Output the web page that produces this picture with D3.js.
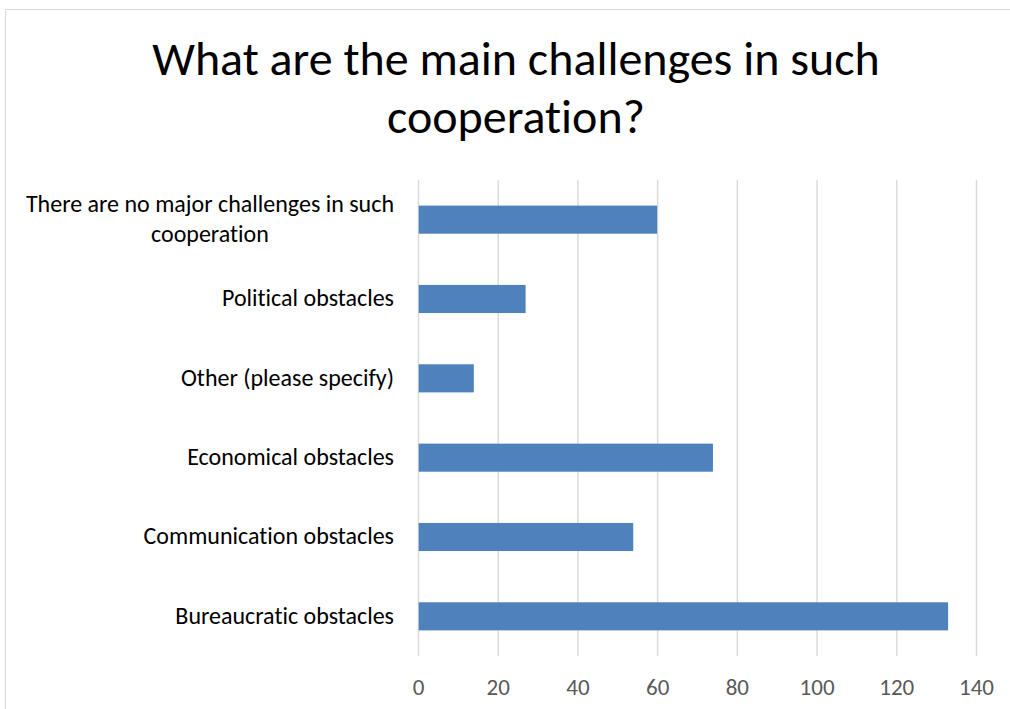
<!DOCTYPE html>
<html>
<head>
<meta charset="utf-8">
<script src="https://cdn.jsdelivr.net/npm/d3@7"></script>
<style>
  html, body { margin: 0; padding: 0; background: #fff; }
  svg { display: block; }
  text { font-variant-ligatures: none; font-feature-settings: "liga" 0, "clig" 0; }
</style>
</head>
<body>
<svg id="chart" width="1010" height="709"></svg>
<script>
// Survey answers, listed top to bottom as drawn
const categories = [
  "There are no major challenges in such cooperation",
  "Political obstacles",
  "Other (please specify)",
  "Economical obstacles",
  "Communication obstacles",
  "Bureaucratic obstacles"
];
const values = [60, 27, 14, 74, 54, 133];
const tickValues = [0, 20, 40, 60, 80, 100, 120, 140];
const titleLines = ["What are the main challenges in such", "cooperation?"];

const FONT = "Carlito, 'Open Sans', 'Noto Sans', sans-serif";
const svg = d3.select("#chart");

// Chart frame
svg.append("path")
  .attr("d", "M5.5,709 V9.5 H1010")
  .attr("fill", "none")
  .attr("stroke", "#d9d9d9")
  .attr("stroke-width", 1);

const plot = { left: 418, right: 976, top: 180, bottom: 656 };

const x = d3.scaleLinear().domain([0, 140]).range([plot.left, plot.right]);
const y = d3.scaleBand().domain(categories).range([plot.top, plot.bottom])
  .paddingInner(0.646).paddingOuter(0.323);

// Title
const title = svg.append("text")
  .attr("text-anchor", "middle")
  .attr("font-family", FONT)
  .attr("font-size", 48)
  .attr("fill", "#000");
titleLines.forEach((t, i) => {
  title.append("tspan").attr("x", 516).attr("y", 75 + i * 58).text(t);
});

// Vertical gridlines + tick labels
const xAxis = d3.axisBottom(x).tickValues(tickValues).tickSize(plot.bottom - plot.top).tickPadding(0);
const gx = svg.append("g").attr("transform", `translate(0,${plot.top})`).call(xAxis);
gx.select(".domain").remove();
gx.selectAll(".tick line").attr("stroke", "#d9d9d9").attr("stroke-width", 1.4);
gx.selectAll(".tick text")
  .attr("y", 695 - plot.top)
  .attr("dy", null)
  .attr("font-family", FONT)
  .attr("font-size", 23)
  .attr("fill", "#595959");

// Bars
svg.append("g").selectAll("rect")
  .data(values)
  .join("rect")
  .attr("x", x(0) + 0.7)
  .attr("y", (d, i) => y(categories[i]))
  .attr("width", d => x(d) - x(0) - 0.7)
  .attr("height", y.bandwidth())
  .attr("fill", "#4f81bd");

// Category labels (wrapped when too long, lines centered within the block)
const labelRight = 394;
const wrapWidth = 380;
const labels = svg.append("g")
  .attr("font-family", FONT)
  .attr("font-size", 24)
  .attr("fill", "#000");

function textWidth(s) {
  const t = labels.append("text").text(s);
  const len = t.node().getComputedTextLength();
  t.remove();
  return len;
}

categories.forEach(cat => {
  const cy = y(cat) + y.bandwidth() / 2;
  if (textWidth(cat) <= wrapWidth) {
    labels.append("text")
      .attr("x", labelRight).attr("y", cy)
      .attr("dy", "0.3em")
      .attr("text-anchor", "end")
      .text(cat);
  } else {
    const words = cat.split(" ");
    const lines = [];
    let cur = [];
    words.forEach(w => {
      const trial = cur.concat(w).join(" ");
      if (textWidth(trial) > wrapWidth && cur.length) { lines.push(cur.join(" ")); cur = [w]; }
      else cur.push(w);
    });
    lines.push(cur.join(" "));
    const cx = labelRight - d3.max(lines, textWidth) / 2;
    const lh = 29.4;
    lines.forEach((l, i) => {
      labels.append("text")
        .attr("x", cx)
        .attr("y", cy + (i - (lines.length - 1) / 2) * lh)
        .attr("dy", "0.3em")
        .attr("text-anchor", "middle")
        .text(l);
    });
  }
});
</script>
</body>
</html>
